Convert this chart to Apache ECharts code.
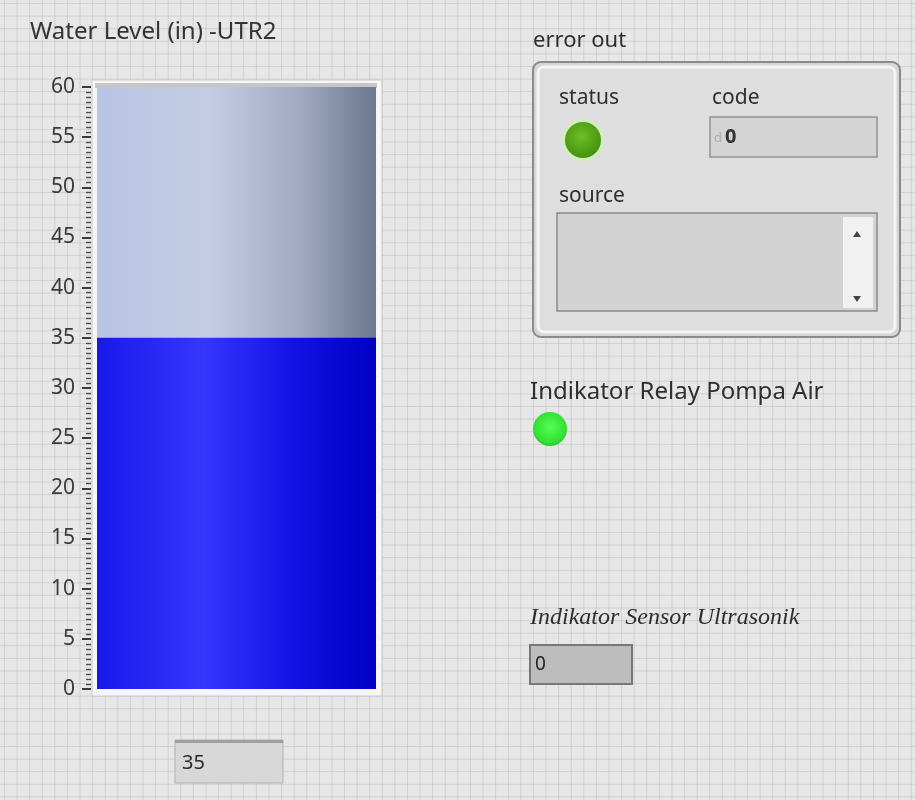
<!DOCTYPE html>
<html>
<head>
<meta charset="utf-8">
<script src="https://cdn.jsdelivr.net/npm/echarts@6/dist/echarts.min.js"></script>
<style>
html,body{margin:0;padding:0;}
body{
  width:915px;height:800px;overflow:hidden;
  background-color:#e7e7e7;
  background-image:
    linear-gradient(to right, rgba(170,170,170,0.38) 1px, transparent 1px),
    linear-gradient(to bottom, rgba(170,170,170,0.38) 1px, transparent 1px);
  background-size:12.6px 12.6px;
  background-position:4px 3px;
}
#chart{width:915px;height:800px;}
</style>
</head>
<body>
<div id="chart"></div>
<script>
// ---- data ----
var title = 'Water Level (in) -UTR2';
var categories = ['UTR2'];
var waterLevel = [35];
var axisMin = 0, axisMax = 60, axisInterval = 5;
var errorCode = 0;
var relayLabel = 'Indikator Relay Pompa Air';
var sensorLabel = 'Indikator Sensor Ultrasonik';
var sensorValue = 0;

var chart = echarts.init(document.getElementById('chart'), null, {renderer:'canvas'});
var F = '"Noto Sans", "DejaVu Sans", sans-serif';

function label(x, y, text, font, fill){
  return {type:'text', x:x, y:y, style:{text:text, font:font, fill:fill||'#2e2e2e', verticalAlign:'middle', textVerticalAlign:'middle'}};
}

var option = {
  animation:false,
  backgroundColor:'transparent',
  grid:{left:97, right:539, top:87, bottom:111, containLabel:false},
  xAxis:{type:'category', data:categories, show:false},
  yAxis:{
    type:'value', min:axisMin, max:axisMax, interval:axisInterval,
    offset:6,
    axisLine:{show:false},
    axisTick:{show:true, length:9, lineStyle:{color:'#3a3a3a', width:2}},
    minorTick:{show:true, splitNumber:10, length:5, lineStyle:{color:'#4a4a4a', width:1.4}},
    splitLine:{show:false},
    axisLabel:{color:'#3a3a3a', fontSize:21, fontFamily:F, margin:16}
  },
  series:[{
    type:'bar',
    data:waterLevel,
    barWidth:'100%',
    showBackground:true,
    backgroundStyle:{
      color:new echarts.graphic.LinearGradient(0,0,1,0,[
        {offset:0,color:'#b8c4e4'},
        {offset:0.4,color:'#c4cde3'},
        {offset:0.72,color:'#a2abc2'},
        {offset:1,color:'#6c7790'}
      ])
    },
    itemStyle:{
      color:new echarts.graphic.LinearGradient(0,0,1,0,[
        {offset:0,color:'#1818ea'},
        {offset:0.38,color:'#3636ff'},
        {offset:0.7,color:'#1212e6'},
        {offset:1,color:'#0000c4'}
      ])
    }
  }],
  graphic:[
    // tank frame
    {type:'rect', z:0, shape:{x:92,y:80,width:290,height:616}, style:{fill:'#f6f6f6', stroke:'#c8c8c8', lineWidth:1}},
    {type:'rect', z:0, shape:{x:95,y:83,width:282,height:5}, style:{fill:'#c6c6c6'}},
    // title
    label(30, 32, title, '24px '+F, '#333'),
    // level digital display
    {type:'rect', shape:{x:175,y:740,width:108,height:43}, style:{fill:'#d8d8d8', stroke:'#b0b0b0', lineWidth:1}},
    {type:'rect', shape:{x:175,y:740,width:108,height:3}, style:{fill:'#a0a0a0'}},
    label(182, 763, String(waterLevel[0]), '20px '+F, '#2a2a2a'),

    // error out cluster
    label(533, 41, 'error out', '22px '+F),
    {type:'rect', shape:{x:533,y:62,width:367,height:275,r:8}, style:{fill:'#d6d6d6', stroke:'#8a8a8a', lineWidth:2}},
    {type:'rect', shape:{x:538,y:67,width:357,height:265,r:6}, style:{fill:'#dedede', stroke:'#f4f4f4', lineWidth:3}},
    label(559, 98, 'status', '21px '+F),
    {type:'circle', shape:{cx:583,cy:140,r:21}, style:{fill:'#d2eebc'}},
    {type:'circle', shape:{cx:583,cy:140,r:18}, style:{
      fill:new echarts.graphic.RadialGradient(0.45,0.4,0.7,[{offset:0,color:'#6cc024'},{offset:1,color:'#3f8a0c'}])}},
    label(712, 98, 'code', '21px '+F),
    {type:'rect', shape:{x:710,y:117,width:167,height:40}, style:{fill:'#d4d4d4', stroke:'#929292', lineWidth:1.5}},
    label(714, 138, 'd', '13px '+F, '#aaa'),
    label(725, 137, String(errorCode), 'bold 20px '+F, '#333'),
    label(559, 196, 'source', '21px '+F),
    {type:'rect', shape:{x:557,y:213,width:320,height:98}, style:{fill:'#d3d3d3', stroke:'#8a8a8a', lineWidth:1.5}},
    {type:'rect', shape:{x:843,y:217,width:30,height:91}, style:{fill:'#f1f1f1'}},
    {type:'polygon', shape:{points:[[853,237],[861,237],[857,231]]}, style:{fill:'#444'}},
    {type:'polygon', shape:{points:[[853,296],[861,296],[857,302]]}, style:{fill:'#444'}},

    // relay indicator
    label(530, 392, relayLabel, '24px '+F),
    {type:'circle', shape:{cx:550,cy:429,r:17}, style:{
      fill:new echarts.graphic.RadialGradient(0.5,0.45,0.65,[{offset:0,color:'#55ff55'},{offset:0.7,color:'#33e033'},{offset:1,color:'#22a822'}])}},

    // sensor indicator
    label(530, 618, sensorLabel, 'italic 24px "Liberation Serif", serif'),
    {type:'rect', shape:{x:530,y:645,width:102,height:39}, style:{fill:'#bdbdbd', stroke:'#777', lineWidth:2}},
    label(535, 665, String(sensorValue), '19px '+F, '#222')
  ]
};
chart.setOption(option);
</script>
</body>
</html>
